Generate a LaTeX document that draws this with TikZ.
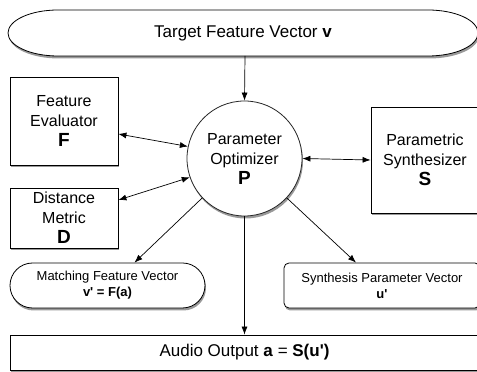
\documentclass[tikz,border=0pt]{standalone}
\usepackage{fontspec}
\setmainfont{Liberation Sans}
\usetikzlibrary{arrows.meta,shadows,shapes.misc}
\newcommand{\apos}{\textquotesingle}
\begin{document}
\begin{tikzpicture}[x=1pt,y=1pt,
  shad/.style={drop shadow={shadow xshift=1pt,shadow yshift=-2.5pt,opacity=0.4,fill=black}},
  blk/.style={draw=black,line width=0.8pt,fill=white,shad,align=center,inner sep=0pt,
    font=\fontsize{16}{20}\selectfont},
  small/.style={draw=black,line width=0.8pt,fill=white,shad,align=center,inner sep=0pt,
    font=\fontsize{13}{16}\selectfont},
  conn/.style={line width=0.7pt,-{Latex[length=8pt,width=6pt]}},
  bconn/.style={line width=0.7pt,{Latex[length=8pt,width=6pt]}-{Latex[length=8pt,width=6pt]}}]
\useasboundingbox (0,0) rectangle (477,372);
\clip (0,0) rectangle (477,372);
% Target feature vector
\draw[line width=0.8pt,fill=white,shad]
  (58,362) -- (428,362) arc[start angle=90,end angle=-90,x radius=50,y radius=23]
  -- (58,316) arc[start angle=270,end angle=90,x radius=50,y radius=23] -- cycle;
\node[font=\fontsize{17}{20}\selectfont] (T) at (243,339) {Target Feature Vector \textbf{v}};
\coordinate (Tb) at (245,316);
% Parameter optimizer
\node[blk,circle,minimum size=115pt,draw=black!85] (P) at (244.5,213.5)
  {Parameter\\Optimizer\\{\fontsize{19}{20}\selectfont\bfseries P}};
% Feature evaluator
\node[blk,minimum width=108pt,minimum height=88pt] (F) at (64,251)
  {Feature\\Evaluator\\{\fontsize{19}{20}\selectfont\bfseries F}};
% Distance metric
\node[blk,minimum width=108pt,minimum height=60pt] (D) at (64,154)
  {Distance\\Metric\\{\fontsize{19}{20}\selectfont\bfseries D}};
% Parametric synthesizer
\node[blk,minimum width=108pt,minimum height=106pt] (S) at (425,212)
  {Parametric\\Synthesizer\\{\fontsize{19}{20}\selectfont\bfseries S}};
% Matching feature vector
\node[small,rounded rectangle,minimum width=195pt,minimum height=45pt] (M) at (107.5,86.5)
  {Matching Feature Vector\\\textbf{v\apos{} = F(a)}};
% Synthesis parameter vector
\node[small,rounded corners=5pt,minimum width=196pt,minimum height=45pt] (U) at (382,86.5)
  {Synthesis Parameter Vector\\\textbf{u\apos}};
% Audio output
\node[blk,minimum width=469pt,minimum height=35pt,font=\fontsize{17}{20}\selectfont] (A) at (244.5,19.5)
  {Audio Output \textbf{a} = \textbf{S(u\apos)}};
% connectors
\draw[conn] (Tb) -- (P.north);
\draw[bconn] ([yshift=-13pt]F.east) -- (P.168);
\draw[bconn] ([yshift=18pt]D.east) -- (P.199);
\draw[bconn] (P.east) -- (S.west);
\draw[conn] (P.223) -- ([xshift=27pt]M.north);
\draw[conn] (P.-43) -- ([xshift=-26pt]U.north);
\draw[conn] (P.south) -- (A.north);
\end{tikzpicture}
\end{document}
